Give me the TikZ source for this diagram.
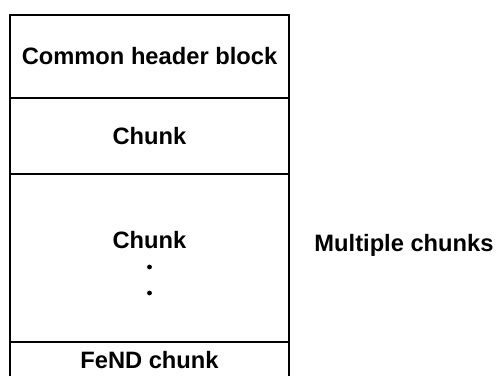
\documentclass[tikz,border=0pt]{standalone}
\usepackage{fontspec}
\setmainfont{Liberation Sans}

\begin{document}
\begin{tikzpicture}[x=1pt,y=-1pt,
    label/.style={font=\fontsize{23.7}{28}\selectfont\bfseries, inner sep=0pt}]

\useasboundingbox (0,0) rectangle (496,376);

% Cadre
\draw[line width=1.3pt] (10,376) -- (10,15) -- (289,15) -- (289,376);

\foreach \y in {98,174,342}
{
    \draw[line width=1.3pt] (10,\y) -- (289,\y);
}

% Textes
\node[label] (header) at (149.5,56) {Common header block};
\node[label] (chunka) at (149.5,136) {Chunk};
\node[label] (chunkb) at (149.5,240) {Chunk};

\foreach \y in {267,293}
{
    \fill (149.5,\y) circle (2.4);
}

\node[label] (fend) at (149.5,360) {FeND chunk};

\node[label] (multi) at (404,245) {Multiple chunks};

\end{tikzpicture}
\end{document}
